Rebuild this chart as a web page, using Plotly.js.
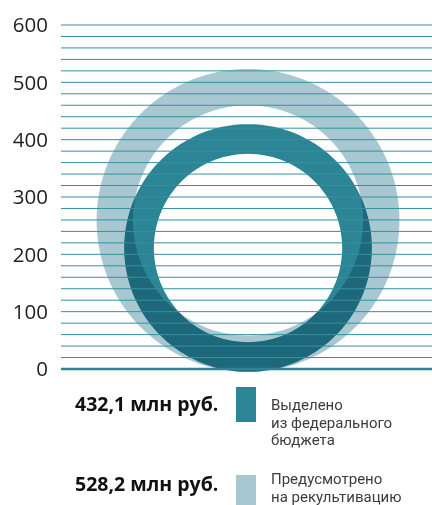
<!DOCTYPE html>
<html>
<head>
<meta charset="utf-8">
<script src="https://cdn.plot.ly/plotly-3.0.1.min.js"></script>
<style>
  html, body { margin: 0; padding: 0; background: #fff; }
  #chart { width: 432px; height: 505px; }
</style>
</head>
<body>
<div id="chart"></div>
<script>
// ---- data ----
const categories = ['Выделено из федерального бюджета', 'Предусмотрено на рекультивацию'];
const values = [432.1, 528.2];                       // млн руб., ring diameters
const valueLabels = ['432,1 млн руб.', '528,2 млн руб.'];
const legendLines = [['Выделено', 'из федерального', 'бюджета'], ['Предусмотрено', 'на рекультивацию']];
const tickVals = [0, 20, 40, 60, 80, 100, 120, 140, 160, 180, 200, 220, 240, 260, 280, 300,
                  320, 340, 360, 380, 400, 420, 440, 460, 480, 500, 520, 540, 560, 580, 600];
const tickText = ['0', '', '', '', '', '100', '', '', '', '', '200', '', '', '', '', '300',
                  '', '', '', '', '400', '', '', '', '', '500', '', '', '', '', '600'];

// ---- style / layout constants ----
const colors = ['#2b8595', '#a8c8d1'];
const gridColor = '#3590a0';
const W = 432, H = 505;
const ringFrac = 0.12;          // ring thickness as share of diameter
const centerX = 326.2;          // x position of ring centres (x-axis units)
const baseOffset = -5;          // ring bottoms sit slightly below zero
const N = 240;

function ringTrace(value, color, name) {
  const R = value / 2, r = R - value * ringFrac;
  const cy = R + baseOffset;
  const xs = [], ys = [];
  for (let i = 0; i <= N; i++) {           // outer, counter-clockwise
    const a = 2 * Math.PI * i / N;
    xs.push(centerX + R * Math.cos(a)); ys.push(cy + R * Math.sin(a));
  }
  for (let i = 0; i <= N; i++) {           // inner, clockwise
    const a = -2 * Math.PI * i / N;
    xs.push(centerX + r * Math.cos(a)); ys.push(cy + r * Math.sin(a));
  }
  return {
    type: 'scatter', mode: 'lines', x: xs, y: ys, name: name,
    fill: 'toself', fillcolor: color, line: { width: 0, color: color, simplify: false },
    hoverinfo: 'skip', showlegend: false
  };
}

const traces = [
  ringTrace(values[1], colors[1], categories[1]),
  ringTrace(values[0], colors[0], categories[0])
];

const px = v => v / W;
const py = v => 1 - v / H;

// grid lines drawn above the rings (blended with multiply after render)
const shapes = tickVals.map(v => ({
  type: 'line', layer: 'above', xref: 'paper', yref: 'y',
  x0: 61 / W, x1: 1, y0: v, y1: v,
  line: { color: v === 0 ? colors[0] : gridColor, width: v === 0 ? 2.5 : 1 }
}));
shapes.push(
  { type: 'rect', xref: 'paper', yref: 'paper', x0: px(236), x1: px(256), y0: py(422), y1: py(387),
    fillcolor: colors[0], line: { width: 0 } },
  { type: 'rect', xref: 'paper', yref: 'paper', x0: px(236), x1: px(256), y0: py(510), y1: py(475),
    fillcolor: colors[1], line: { width: 0 } }
);

const boldFont = { family: 'Open Sans, sans-serif', size: 19.5, color: '#111' };
const legFont = { family: 'Roboto, sans-serif', size: 15, color: '#3c3c3c' };

const annotations = [
  { xref: 'paper', yref: 'paper', x: px(220), y: py(403), xanchor: 'right', yanchor: 'middle',
    text: '<b>' + valueLabels[0] + '</b>', showarrow: false, font: boldFont },
  { xref: 'paper', yref: 'paper', x: px(220), y: py(483), xanchor: 'right', yanchor: 'middle',
    text: '<b>' + valueLabels[1] + '</b>', showarrow: false, font: boldFont }
];
const legendStart = [405, 479];   // centre of first legend line, px
legendLines.forEach((lines, k) => {
  lines.forEach((t, j) => {
    annotations.push({
      xref: 'paper', yref: 'paper', x: px(270), y: py(legendStart[k] + j * 17.7),
      xanchor: 'left', yanchor: 'middle', align: 'left', borderpad: 0,
      text: t, showarrow: false, font: legFont
    });
  });
});

const yTop = 22.13, yBot = 377.6;
const layout = {
  width: W, height: H,
  margin: { l: 0, r: 0, t: 0, b: 0, pad: 0 },
  paper_bgcolor: '#fff', plot_bgcolor: 'rgba(0,0,0,0)',
  showlegend: false,
  xaxis: { domain: [61 / W, 1], range: [0, 647.1], visible: false, fixedrange: true },
  yaxis: {
    domain: [1 - yBot / H, 1 - yTop / H], range: [-15, 605],
    tickmode: 'array', tickvals: tickVals, ticktext: tickText,
    showgrid: false, zeroline: false,
    showline: false, ticks: '', ticklabelstandoff: 12,
    tickfont: { family: 'Open Sans, sans-serif', size: 20.5, color: '#222' },
    fixedrange: true
  },
  shapes: shapes,
  annotations: annotations
};

Plotly.newPlot('chart', traces, layout, { displayModeBar: false, staticPlot: true }).then(() => {
  document.querySelectorAll('.scatterlayer .js-fill').forEach(p => {
    p.style.mixBlendMode = 'multiply';
  });
  document.querySelectorAll('.layer-above .shapelayer path').forEach(p => {
    p.style.mixBlendMode = 'multiply';
  });
});
</script>
</body>
</html>
